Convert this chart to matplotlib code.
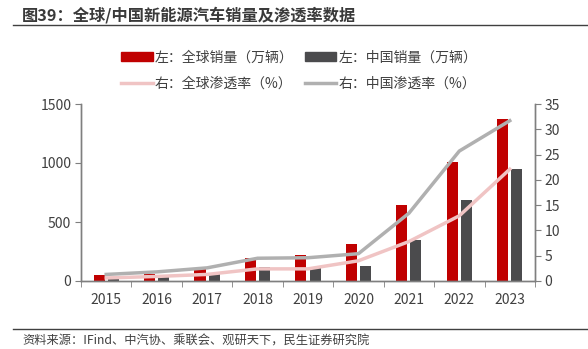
import matplotlib
matplotlib.use("Agg")
import matplotlib.pyplot as plt
import numpy as np
from matplotlib.lines import Line2D
from matplotlib.patches import Patch

plt.rcParams['font.family'] = ['Noto Sans CJK SC', 'DejaVu Sans']

years = ['2015', '2016', '2017', '2018', '2019', '2020', '2021', '2022', '2023']
global_sales = [51, 62, 104, 193, 220, 311, 645, 1008, 1370]
china_sales = [22, 30, 65, 121, 116, 130, 347, 686, 946]
global_pen = [0.6, 0.9, 1.3, 2.4, 2.4, 4.0, 7.8, 12.9, 22.1]
china_pen = [1.3, 1.8, 2.6, 4.5, 4.6, 5.4, 13.4, 25.7, 31.7]

RED = '#C00000'
DGRAY = '#4B4B4D'
PINK = '#F0C4C4'
LGRAY = '#B0B0B0'
AX = '#7F7F7F'
TXT = '#404040'

fig = plt.figure(figsize=(5.88, 3.49), dpi=100)
ax = fig.add_axes([81/588, 1-281/349, (535-81)/588, (281-104)/349])
ax2 = ax.twinx()

x = np.arange(len(years))
w = 0.22
ax.bar(x - 0.14, global_sales, w, color=RED, zorder=2)
ax.bar(x + 0.14, china_sales, w, color=DGRAY, zorder=2)
ax2.plot(x, global_pen, color=PINK, lw=2.5, zorder=3)
ax2.plot(x, china_pen, color=LGRAY, lw=2.5, zorder=3)

ax.set_xlim(-0.5, len(years) - 0.5)
ax.set_ylim(0, 1500)
ax2.set_ylim(0, 35)
ax.set_yticks([0, 500, 1000, 1500])
ax2.set_yticks(range(0, 36, 5))
ax.set_xticks(x)
ax.set_xticklabels(years)
ax.set_xticks(np.arange(-0.5, len(years), 1), minor=True)
ax.tick_params(axis='x', which='major', length=0, pad=9, labelsize=10, labelcolor=TXT)
ax.tick_params(axis='x', which='minor', length=4, color=AX, direction='out')
ax.tick_params(axis='y', length=4, color=AX, labelsize=10, labelcolor=TXT, pad=3)
ax2.tick_params(axis='y', length=4, color=AX, labelsize=10, labelcolor=TXT, pad=3)

for a in (ax, ax2):
    a.spines['top'].set_visible(False)
    for s in ('left', 'right', 'bottom'):
        a.spines[s].set_color(AX)
        a.spines[s].set_linewidth(1.0)
ax.set_zorder(ax2.get_zorder() - 1)
ax.patch.set_visible(False)

# Title
fig.text(22/588, 1-15/349, '图39：全球/中国新能源汽车销量及渗透率数据', fontsize=11.7,
         fontweight='bold', color='#3A3A3A', va='center', ha='left')
fig.add_artist(Line2D([13/588, 1], [1-25/349, 1-25/349], color='#404040', lw=1.0))
fig.add_artist(Line2D([13/588, 1], [1-329/349, 1-329/349], color='#404040', lw=1.0))
fig.text(22/588, 1-341/349, '资料来源：IFind、中汽协、乘联会、观研天下，民生证券研究院', fontsize=8.8,
         color='#404040', va='center', ha='left')

handles = [Patch(color=RED), Line2D([], [], color=PINK, lw=2.5),
           Patch(color=DGRAY), Line2D([], [], color=LGRAY, lw=2.5)]
labels = ['左：全球销量（万辆）', '右：全球渗透率（%）', '左：中国销量（万辆）', '右：中国渗透率（%）']
fig.legend(handles, labels, ncol=2, loc='center', bbox_to_anchor=(0.5085, 1-70.5/349),
           frameon=False, fontsize=10, handlelength=2.3, handleheight=0.6,
           handletextpad=0.15, columnspacing=0.8, labelspacing=0.85, labelcolor=TXT)

fig.savefig('out.png', dpi=100)
